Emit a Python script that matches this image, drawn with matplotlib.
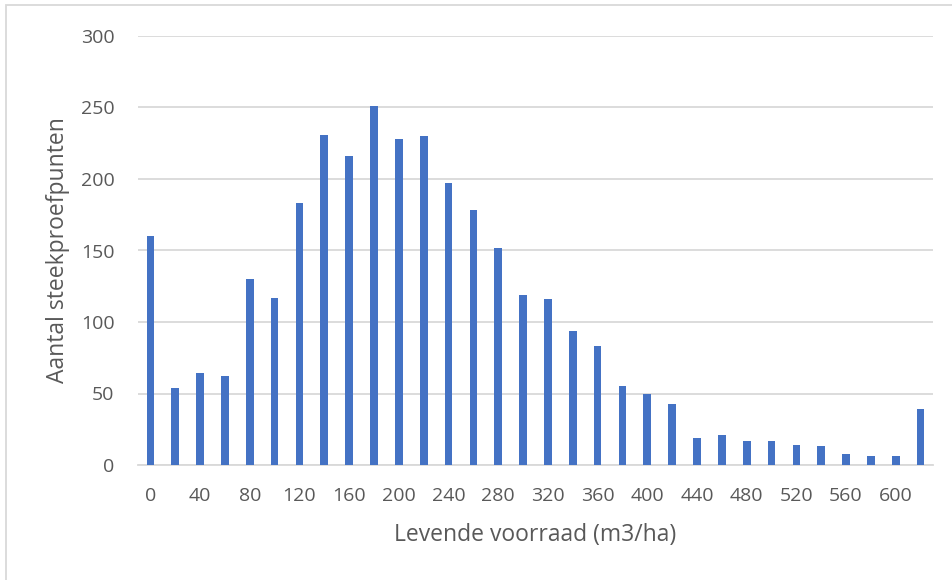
import matplotlib.pyplot as plt
from matplotlib.patches import Rectangle

# Aantal steekproefpunten per klasse levende voorraad (klassen van 20 m3/ha)
klassen = list(range(0, 640, 20))
aantallen = [160, 54, 64, 62, 130, 117, 183, 231, 216, 251, 228, 230, 197,
             178, 152, 119, 116, 94, 83, 55, 50, 43, 19, 21, 17, 17, 14, 13,
             8, 6, 6, 39]
tick_labels = [str(k) if k % 40 == 0 and k <= 600 else "" for k in klassen]

plt.rcParams['font.family'] = ['Open Sans', 'DejaVu Sans']
tekstkleur = '#595959'

fig = plt.figure(figsize=(9.52, 5.8), dpi=100)
ax = fig.add_axes([138 / 952, 115 / 580, 795 / 952, 429 / 580])

x = range(len(klassen))
ax.bar(x, aantallen, width=0.31, color='#4472C4', zorder=3)

ax.set_xlim(-0.5, len(klassen) - 0.5)
ax.set_ylim(0, 300)
ax.set_yticks(range(0, 301, 50))
ax.set_xticks(list(x))
ax.set_xticklabels(tick_labels)

ax.grid(axis='y', color='#D9D9D9', linewidth=1.3, zorder=0)
for side in ['top', 'right', 'left']:
    ax.spines[side].set_visible(False)
ax.spines['bottom'].set_color('#D9D9D9')
ax.spines['bottom'].set_linewidth(1.3)

ax.tick_params(axis='both', length=0, labelsize=14, labelcolor=tekstkleur)
ax.tick_params(axis='x', pad=16)
ax.tick_params(axis='y', pad=17)

ax.set_xlabel('Levende voorraad (m3/ha)', fontsize=16.5, color=tekstkleur, labelpad=13)
ax.set_ylabel('Aantal steekproefpunten', fontsize=16.5, color=tekstkleur, labelpad=8)

# grijze kaderlijn rond de grafiek
fig.patches.append(Rectangle((6 / 952, -0.1), 1.2, (580 - 5) / 580 + 0.1,
                             transform=fig.transFigure, fill=False,
                             edgecolor='#D9D9D9', linewidth=1.3))

fig.savefig('out.png', dpi=100)
